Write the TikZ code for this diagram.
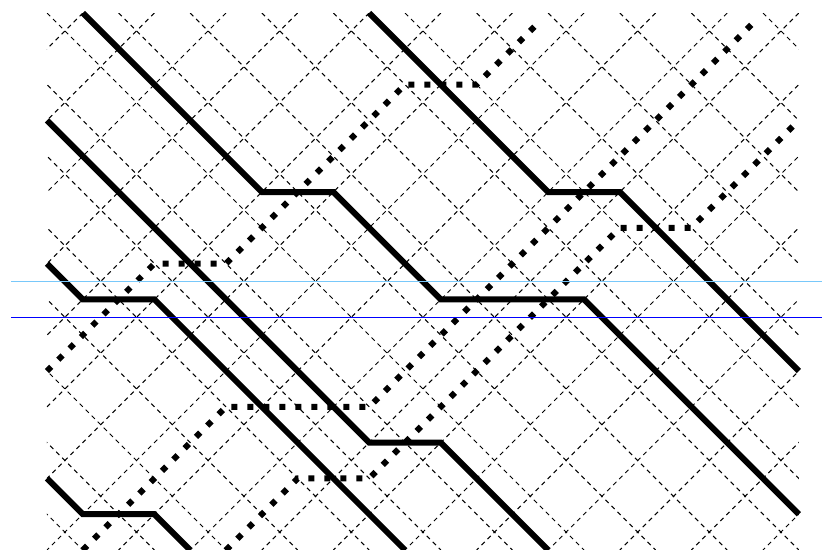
\documentclass[tikz,border=0pt]{standalone}
\begin{document}
\begin{tikzpicture}[x=35.8pt,y=-35.8pt,
  gridline/.style={line width=1pt, dash pattern=on 4.5pt off 4pt, black},
  worldline/.style={line width=6pt, black},
  dotline/.style={line width=6pt, black, dash pattern=on 6pt off 10pt},
  levelA/.style={line width=1.5pt, color={rgb,255:red,120;green,200;blue,250}},
  levelB/.style={line width=1.5pt, color={rgb,255:red,0;green,0;blue,255}}]
\useasboundingbox (-1.3128,-0.3631) rectangle (21.648,14.972);
% dashed light-cone grid
\begin{scope}
\clip (0,0) rectangle (21,15);
\foreach \k in {-8,...,11} \draw[gridline] (2*\k,0) -- ++(15,15);
\foreach \m in {0,...,18} \draw[gridline] (2*\m+1,0) -- ++(-15,15);
\end{scope}
% solid world lines
\draw[worldline] (1,0) -- (6,5) -- (8,5) -- (11,8) -- (15,8) -- (21,14);
\draw[worldline] (9,0) -- (14,5) -- (16,5) -- (21,10);
\draw[worldline] (0,3) -- (9,12) -- (11,12) -- (14,15);
\draw[worldline] (0,7) -- (1,8) -- (3,8) -- (10,15);
\draw[worldline] (0,13) -- (1,14) -- (3,14) -- (4,15);
% dotted world lines
\draw[dotline] (0,10) -- (3,7) -- (5,7) -- (10,2) -- (12,2) -- (13.7,0.3);
\draw[dotline] (1,15) -- (5,11) -- (9,11) -- (19.7,0.3);
\draw[dotline] (5,15) -- (7,13) -- (9,13) -- (16,6) -- (18,6) -- (20.9,3.1);
% horizontal level lines (on top)
\coordinate (la) at (-1,7.5);
\coordinate (lb) at (21.7,7.5);
\coordinate (ma) at (-1,8.5);
\coordinate (mb) at (21.7,8.5);
\draw[levelA] (la) -- (lb);
\draw[levelB] (ma) -- (mb);
\end{tikzpicture}
\end{document}
